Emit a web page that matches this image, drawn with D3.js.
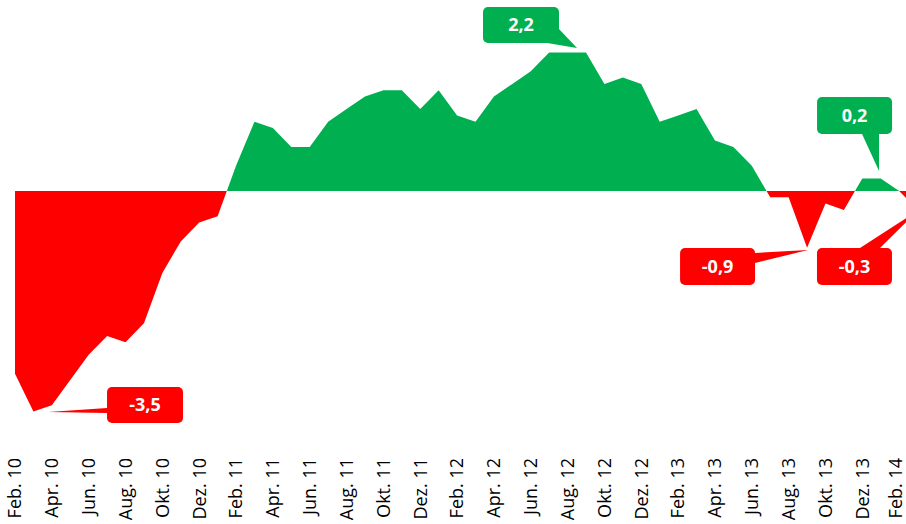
<!DOCTYPE html>
<html lang="de">
<head>
<meta charset="UTF-8">
<title>Abweichung</title>
<script src="https://d3js.org/d3.v7.min.js"></script>
<style>
  body { margin: 0; background: #fff; }
  svg { display: block; }
  .tick-label { font-family: "Open Sans", sans-serif; font-size: 18px; fill: #000; }
  .callout text { font-family: "Open Sans", sans-serif; font-weight: bold; font-size: 18px; fill: #fff; }
</style>
</head>
<body>
<svg width="906" height="524"></svg>
<script>
const months = [
  "Feb. 10", "Mär. 10", "Apr. 10", "Mai 10", "Jun. 10", "Jul. 10", "Aug. 10", "Sep. 10", "Okt. 10", "Nov. 10", "Dez. 10",
  "Jan. 11", "Feb. 11", "Mär. 11", "Apr. 11", "Mai 11", "Jun. 11", "Jul. 11", "Aug. 11", "Sep. 11", "Okt. 11", "Nov. 11", "Dez. 11",
  "Jan. 12", "Feb. 12", "Mär. 12", "Apr. 12", "Mai 12", "Jun. 12", "Jul. 12", "Aug. 12", "Sep. 12", "Okt. 12", "Nov. 12", "Dez. 12",
  "Jan. 13", "Feb. 13", "Mär. 13", "Apr. 13", "Mai 13", "Jun. 13", "Jul. 13", "Aug. 13", "Sep. 13", "Okt. 13", "Nov. 13", "Dez. 13",
  "Jan. 14", "Feb. 14", "Mär. 14"
];
const values = [
  -2.9, -3.5, -3.4, -3.0, -2.6, -2.3, -2.4, -2.1, -1.3, -0.8, -0.5,
  -0.4, 0.4, 1.1, 1.0, 0.7, 0.7, 1.1, 1.3, 1.5, 1.6, 1.6, 1.3,
  1.6, 1.2, 1.1, 1.5, 1.7, 1.9, 2.2, 2.2, 2.2, 1.7, 1.8, 1.7,
  1.1, 1.2, 1.3, 0.8, 0.7, 0.4, -0.1, -0.1, -0.9, -0.2, -0.3, 0.2,
  0.2, 0.0, -0.3
];
const tickLabels = [
  "Feb. 10", "Apr. 10", "Jun. 10", "Aug. 10", "Okt. 10", "Dez. 10",
  "Feb. 11", "Apr. 11", "Jun. 11", "Aug. 11", "Okt. 11", "Dez. 11",
  "Feb. 12", "Apr. 12", "Jun. 12", "Aug. 12", "Okt. 12", "Dez. 12",
  "Feb. 13", "Apr. 13", "Jun. 13", "Aug. 13", "Okt. 13", "Dez. 13",
  "Feb. 14"
];
const calloutMonths = ["Mär. 10", "Aug. 12", "Sep. 13", "Jan. 14", "Mär. 14"];
const calloutLabels = ["-3,5", "2,2", "-0,9", "0,2", "-0,3"];

// placement of each callout box relative to its point
const calloutLayout = [
  { dx: 73.6, dy: -24.5, w: 76, h: 36, base: [[0, 21], [0, 26]], tip: [15, 0.5] },
  { dx: -84.6, dy: -45.4, w: 76, h: 36, base: [[76, 22], [64, 36]], tip: [9.4, -4.4] },
  { dx: -127, dy: 0.3, w: 75, h: 37, base: [[75, 5], [75, 15]], tip: [1, 2.3] },
  { dx: -63.7, dy: -81.4, w: 75, h: 37, base: [[45, 37], [62, 37]], tip: [-1.7, -7.4] },
  { dx: -100.6, dy: 38.1, w: 75, h: 37, base: [[43, 0], [63, 0]], tip: [0, 1] }
];

const green = "#00b050", red = "#ff0000";
const svg = d3.select("svg");

const x = d3.scalePoint()
    .domain(months)
    .range([15, 15 + (months.length - 1) * 18.42]);

const y = d3.scaleLinear()
    .domain([-4, 3])
    .range([443, 2]);

const data = months.map((m, i) => ({ month: m, value: values[i] }));

const area = d3.area()
    .x(d => x(d.month))
    .y0(y(0))
    .y1(d => y(d.value));

const defs = svg.append("defs");
defs.append("clipPath").attr("id", "above")
  .append("rect").attr("x", 0).attr("y", 0).attr("width", 1000).attr("height", y(0));
defs.append("clipPath").attr("id", "below")
  .append("rect").attr("x", 0).attr("y", y(0)).attr("width", 1000).attr("height", 600);

svg.append("path")
    .datum(data)
    .attr("d", area)
    .attr("fill", red)
    .attr("clip-path", "url(#below)");

svg.append("path")
    .datum(data)
    .attr("d", area)
    .attr("fill", green)
    .attr("clip-path", "url(#above)");

// category labels, rotated
svg.append("g")
  .selectAll("text")
  .data(tickLabels)
  .join("text")
    .attr("class", "tick-label")
    .attr("transform", d => `translate(${Math.min(x(d), 896)},458) rotate(-90)`)
    .attr("text-anchor", "end")
    .attr("dy", "0.35em")
    .text(d => d);

// callouts
calloutMonths.forEach((m, i) => {
  const v = values[months.indexOf(m)];
  const px = x(m), py = y(v);
  const L = calloutLayout[i];
  const bx = px + L.dx, by = py + L.dy;
  const col = v < 0 ? red : green;
  const g = svg.append("g").attr("class", "callout");

  g.append("path")
      .attr("d", d3.line()([
        [bx + L.base[0][0], by + L.base[0][1]],
        [px + L.tip[0], py + L.tip[1]],
        [bx + L.base[1][0], by + L.base[1][1]],
        [bx + L.w / 2, by + L.h / 2]
      ]) + "Z")
      .attr("fill", col);

  g.append("rect")
      .attr("x", bx).attr("y", by)
      .attr("width", L.w).attr("height", L.h)
      .attr("rx", 5)
      .attr("fill", col);

  g.append("text")
      .attr("x", bx + L.w / 2)
      .attr("y", by + L.h / 2)
      .attr("dy", "0.35em")
      .attr("text-anchor", "middle")
      .text(calloutLabels[i]);
});
</script>
</body>
</html>
